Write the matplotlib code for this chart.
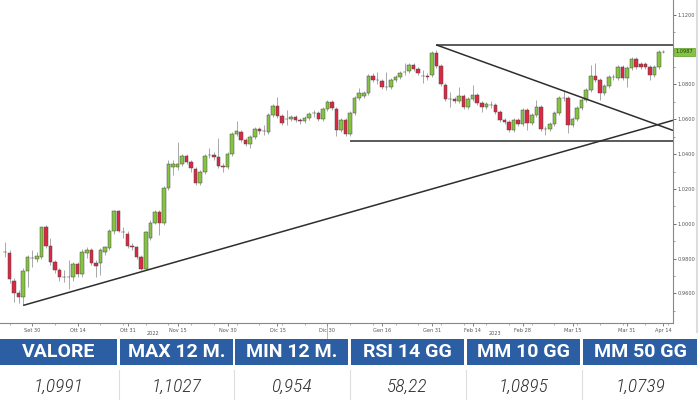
import matplotlib
matplotlib.use("Agg")
import matplotlib.pyplot as plt
from matplotlib import font_manager
from matplotlib.patches import Rectangle
from matplotlib.lines import Line2D
import numpy as np

# EUR/USD daily candles, Sep 2022 - Apr 2023
opens = [
    0.9835, 0.9830, 0.9674, 0.9600, 0.9582, 0.9726, 0.9801, 0.9795, 0.9807, 0.9979,
    0.9875, 0.9778, 0.9732, 0.9692, 0.9697, 0.9692, 0.9766, 0.9709, 0.9830, 0.9847,
    0.9772, 0.9772, 0.9835, 0.9858, 0.9956, 1.0071, 0.9950, 0.9944, 0.9870, 0.9864,
    0.9807, 0.9738, 0.9921, 1.0007, 1.0065, 1.0002, 1.0203, 1.0324, 1.0324, 1.0341,
    1.0387, 1.0352, 1.0312, 1.0232, 1.0295, 1.0393, 1.0393, 1.0381, 1.0330, 1.0324,
    1.0398, 1.0513, 1.0525, 1.0479, 1.0456, 1.0496, 1.0542, 1.0530, 1.0525, 1.0622,
    1.0674, 1.0617, 1.0599, 1.0599, 1.0611, 1.0594, 1.0588, 1.0605, 1.0634, 1.0634,
    1.0599, 1.0657, 1.0697, 1.0657, 1.0536, 1.0594, 1.0513, 1.0634, 1.0720, 1.0732,
    1.0749, 1.0847, 1.0824, 1.0818, 1.0783, 1.0783, 1.0824, 1.0841, 1.0870, 1.0875,
    1.0910, 1.0887, 1.0847, 1.0847, 1.0852, 1.0979, 1.0904, 1.0795, 1.0714, 1.0714,
    1.0703, 1.0732, 1.0669, 1.0714, 1.0737, 1.0692, 1.0669, 1.0680, 1.0680, 1.0640,
    1.0594, 1.0582, 1.0536, 1.0594, 1.0571, 1.0651, 1.0576, 1.0622, 1.0669, 1.0542,
    1.0542, 1.0571, 1.0634, 1.0720, 1.0720, 1.0565, 1.0599, 1.0663, 1.0709, 1.0766,
    1.0847, 1.0824, 1.0749, 1.0789, 1.0841, 1.0835, 1.0898, 1.0835, 1.0892, 1.0944,
    1.0915, 1.0915, 1.0898, 1.0852, 1.0898, 1.0984]
closes = [
    0.9838, 0.9680, 0.9600, 0.9582, 0.9726, 0.9807, 0.9804, 0.9812, 0.9979, 0.9875,
    0.9778, 0.9732, 0.9692, 0.9695, 0.9692, 0.9766, 0.9709, 0.9835, 0.9847, 0.9772,
    0.9755, 0.9847, 0.9864, 0.9956, 1.0071, 0.9961, 0.9953, 0.9870, 0.9867, 0.9807,
    0.9738, 0.9950, 1.0007, 1.0065, 1.0002, 1.0203, 1.0341, 1.0341, 1.0341, 1.0387,
    1.0352, 1.0318, 1.0232, 1.0295, 1.0387, 1.0396, 1.0381, 1.0330, 1.0324, 1.0398,
    1.0513, 1.0530, 1.0479, 1.0456, 1.0496, 1.0542, 1.0530, 1.0533, 1.0622, 1.0674,
    1.0617, 1.0576, 1.0602, 1.0611, 1.0594, 1.0588, 1.0605, 1.0628, 1.0637, 1.0599,
    1.0657, 1.0697, 1.0663, 1.0536, 1.0594, 1.0513, 1.0634, 1.0720, 1.0749, 1.0749,
    1.0847, 1.0824, 1.0827, 1.0783, 1.0786, 1.0824, 1.0841, 1.0864, 1.0873, 1.0910,
    1.0887, 1.0864, 1.0850, 1.0844, 1.0979, 1.0904, 1.0801, 1.0714, 1.0717, 1.0703,
    1.0732, 1.0669, 1.0714, 1.0737, 1.0692, 1.0669, 1.0686, 1.0683, 1.0640, 1.0594,
    1.0582, 1.0536, 1.0594, 1.0571, 1.0651, 1.0576, 1.0622, 1.0669, 1.0542, 1.0545,
    1.0571, 1.0634, 1.0720, 1.0723, 1.0565, 1.0599, 1.0663, 1.0709, 1.0766, 1.0847,
    1.0824, 1.0749, 1.0789, 1.0841, 1.0844, 1.0898, 1.0835, 1.0892, 1.0944, 1.0898,
    1.0898, 1.0898, 1.0852, 1.0898, 1.0984, 1.0987]
highs = [
    0.9893, 0.9847, 0.9686, 0.9617, 0.9743, 0.9818, 0.9847, 0.9835, 0.9984, 0.9990,
    0.9916, 0.9790, 0.9743, 0.9732, 0.9790, 0.9778, 0.9778, 0.9853, 0.9864, 0.9858,
    0.9790, 0.9858, 0.9875, 0.9967, 1.0077, 1.0077, 0.9979, 0.9956, 0.9887, 0.9875,
    0.9818, 0.9961, 1.0019, 1.0077, 1.0077, 1.0214, 1.0364, 1.0364, 1.0467, 1.0398,
    1.0398, 1.0364, 1.0324, 1.0307, 1.0398, 1.0433, 1.0410, 1.0490, 1.0347, 1.0410,
    1.0525, 1.0588, 1.0536, 1.0490, 1.0508, 1.0553, 1.0553, 1.0565, 1.0634, 1.0686,
    1.0726, 1.0628, 1.0651, 1.0622, 1.0622, 1.0605, 1.0617, 1.0640, 1.0651, 1.0645,
    1.0669, 1.0709, 1.0709, 1.0669, 1.0605, 1.0605, 1.0645, 1.0732, 1.0778, 1.0761,
    1.0858, 1.0864, 1.0870, 1.0830, 1.0870, 1.0835, 1.0852, 1.0875, 1.0921, 1.0921,
    1.0921, 1.0898, 1.0881, 1.0864, 1.0990, 1.0996, 1.0915, 1.0806, 1.0755, 1.0726,
    1.0783, 1.0743, 1.0726, 1.0795, 1.0749, 1.0703, 1.0697, 1.0703, 1.0692, 1.0651,
    1.0605, 1.0594, 1.0605, 1.0605, 1.0663, 1.0663, 1.0634, 1.0709, 1.0680, 1.0559,
    1.0582, 1.0645, 1.0732, 1.0766, 1.0732, 1.0611, 1.0674, 1.0720, 1.0778, 1.0910,
    1.0921, 1.0835, 1.0801, 1.0852, 1.0858, 1.0910, 1.0910, 1.0904, 1.0956, 1.0956,
    1.0927, 1.0927, 1.0910, 1.0910, 1.0996, 1.0996]
lows = [
    0.9807, 0.9657, 0.9548, 0.9542, 0.9531, 0.9634, 0.9749, 0.9778, 0.9795, 0.9858,
    0.9761, 0.9720, 0.9674, 0.9663, 0.9628, 0.9674, 0.9697, 0.9697, 0.9801, 0.9761,
    0.9697, 0.9703, 0.9818, 0.9847, 0.9944, 0.9950, 0.9921, 0.9858, 0.9847, 0.9795,
    0.9732, 0.9732, 0.9904, 0.9996, 0.9933, 0.9990, 1.0191, 1.0278, 1.0307, 1.0330,
    1.0341, 1.0295, 1.0220, 1.0220, 1.0284, 1.0376, 1.0364, 1.0318, 1.0295, 1.0312,
    1.0387, 1.0502, 1.0467, 1.0444, 1.0433, 1.0485, 1.0513, 1.0508, 1.0513, 1.0611,
    1.0605, 1.0565, 1.0565, 1.0588, 1.0582, 1.0571, 1.0576, 1.0594, 1.0611, 1.0588,
    1.0588, 1.0645, 1.0651, 1.0502, 1.0525, 1.0502, 1.0502, 1.0622, 1.0709, 1.0720,
    1.0737, 1.0812, 1.0801, 1.0772, 1.0766, 1.0772, 1.0812, 1.0830, 1.0852, 1.0864,
    1.0875, 1.0852, 1.0806, 1.0824, 1.0841, 1.0892, 1.0789, 1.0703, 1.0669, 1.0692,
    1.0692, 1.0657, 1.0657, 1.0703, 1.0680, 1.0640, 1.0657, 1.0663, 1.0628, 1.0582,
    1.0571, 1.0525, 1.0525, 1.0559, 1.0559, 1.0536, 1.0565, 1.0611, 1.0530, 1.0508,
    1.0530, 1.0559, 1.0622, 1.0703, 1.0519, 1.0553, 1.0588, 1.0651, 1.0697, 1.0755,
    1.0812, 1.0709, 1.0737, 1.0778, 1.0824, 1.0824, 1.0824, 1.0783, 1.0881, 1.0887,
    1.0887, 1.0887, 1.0824, 1.0841, 1.0887, 1.0979]

# x axis labels (candle index -> date label)
tick_pos = [6, 16, 27, 38, 49, 60, 71, 83, 94, 103, 114, 125, 137, 145]
tick_labels = ["Set 30", "Ott 14", "Ott 31", "Nov 15", "Nov 30", "Dic 15", "Dic 30",
               "Gen 16", "Gen 31", "Feb 14", "Feb 28", "Mar 15", "Mar 31", "Apr 14"]
year_pos = [32.5, 108]
year_labels = ["2022", "2023"]

# price axis labels (1.1000 sits under the last-price box, so it is left out)
price_ticks = [0.96, 0.98, 1.00, 1.02, 1.04, 1.06, 1.08, 1.12]

# trendlines: (x0, y0, x1, y1) in candle index / price
support_line = (4, 0.9531, 147.1, 1.0594)
falling_line = (95, 1.1027, 147.1, 1.0536)
range_top = (95, 1.1027, 147.1, 1.1027)
range_bottom = (76, 1.0473, 147.1, 1.0473)

headers = ["VALORE", "MAX 12 M.", "MIN 12 M.", "RSI 14 GG", "MM 10 GG", "MM 50 GG"]
values = ["1,0991", "1,1027", "0,954", "58,22", "1,0895", "1,0739"]

GREEN = "#84c441"
RED = "#dc2842"
BLUE = "#2b5ea3"

names = {f.name for f in font_manager.fontManager.ttflist}
narrow = next((n for n in ["Liberation Sans Narrow", "Roboto Condensed", "Open Sans Condensed"]
               if n in names), "DejaVu Sans")
head_font = "Roboto" if "Roboto" in names else narrow

fig = plt.figure(figsize=(7, 4), dpi=100)
ax = fig.add_axes([0.0, 0.1925, 0.9614, 0.8075])

x = np.arange(len(closes))
o = np.array(opens)
c = np.array(closes)
up = c >= o
colors = np.where(up, GREEN, RED)
body_low = np.minimum(o, c)
body_h = np.maximum(np.abs(c - o), 0.0002)

ax.vlines(x, lows, highs, color="#9a9a9a", linewidth=0.6, zorder=2)
ax.bar(x, body_h, bottom=body_low, width=0.78, color=colors,
       edgecolor="#4a4a4a", linewidth=0.35, zorder=3)

for seg in [support_line, falling_line, range_top, range_bottom]:
    ax.plot([seg[0], seg[2]], [seg[1], seg[3]], color="#2e2e2e", linewidth=1.1,
            zorder=4, solid_capstyle="butt")

ax.set_xlim(-1.1, 147.1)
ax.set_ylim(0.9430, 1.1285)

for s in ["left", "top"]:
    ax.spines[s].set_visible(False)
ax.spines["right"].set_color("#888888")
ax.spines["bottom"].set_color("#888888")
ax.spines["right"].set_linewidth(0.8)
ax.spines["bottom"].set_linewidth(0.8)

ax.yaxis.tick_right()
ax.set_yticks(price_ticks)
ax.set_yticks(np.arange(0.95, 1.1201, 0.01), minor=True)
ax.yaxis.set_major_formatter(matplotlib.ticker.FormatStrFormatter("%.4f"))
ax.tick_params(axis="y", which="major", labelsize=3.6, colors="#555555", length=2, width=0.6, pad=1)
ax.tick_params(axis="y", which="minor", length=1.5, width=0.5, colors="#777777")

ax.set_xticks(tick_pos)
ax.set_xticklabels(tick_labels)
ax.set_xticks(np.arange(1, 147, 5), minor=True)
ax.tick_params(axis="x", which="major", labelsize=3.6, colors="#555555", length=2, width=0.5, pad=1.5)
ax.tick_params(axis="x", which="minor", length=1.2, width=0.4, colors="#777777")

for pos, lab in zip(year_pos, year_labels):
    ax.text(pos, -0.033, lab, transform=ax.get_xaxis_transform(), ha="center", va="center",
            fontsize=3.6, color="#555555")
# year separator
ax.plot([70.9, 70.9], [0, -0.055], transform=ax.get_xaxis_transform(), color="#999999",
        linewidth=0.5, clip_on=False)

# last price label
ax.text(1.004, closes[-1], "1.0987", transform=ax.get_yaxis_transform(), ha="left", va="center",
        fontsize=3.6, color="#1f3d10", zorder=10,
        bbox=dict(boxstyle="square,pad=0.35", facecolor=GREEN, edgecolor="#5a9a2a", linewidth=0.5))

# light right border of the chart panel
fig.add_artist(Line2D([0.996, 0.996], [0.17, 1.0], color="#dddddd", linewidth=1.5))

# summary table
col_bounds = [(0, 117), (120, 233), (235, 348), (351, 464), (467, 580), (583, 697)]
for (x0, x1), head, val in zip(col_bounds, headers, values):
    fig.add_artist(Rectangle((x0 / 700, 35 / 400), (x1 - x0) / 700, 26 / 400,
                             transform=fig.transFigure, facecolor=BLUE, edgecolor="none"))
    xc = (x0 + x1) / 2 / 700
    fig.text(xc, 48 / 400, head, ha="center", va="center", color="white", fontsize=14,
             fontweight="bold", family=head_font)
    fig.text(xc, 13 / 400, val, ha="center", va="center", color="#333333", fontsize=14,
             style="italic", fontweight="light", family=narrow, stretch="condensed")
for x0, _ in col_bounds[1:]:
    fig.add_artist(Line2D([(x0 - 1.5) / 700, (x0 - 1.5) / 700], [0.0, 30 / 400],
                          color="#dddddd", linewidth=0.8))

fig.savefig("out.png", dpi=100)
